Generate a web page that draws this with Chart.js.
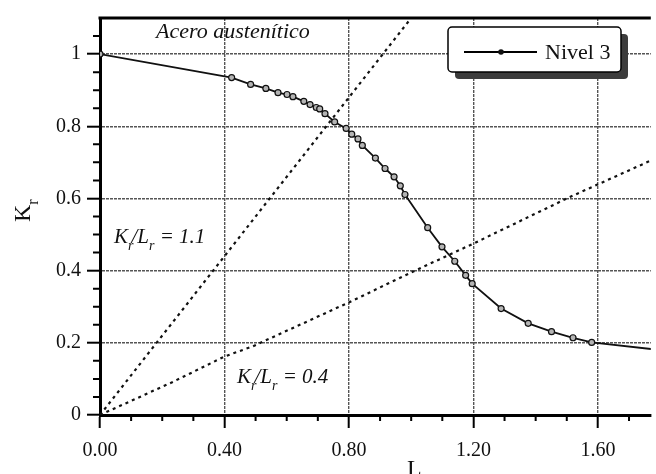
<!DOCTYPE html>
<html>
<head>
<meta charset="utf-8">
<script src="https://cdn.jsdelivr.net/npm/chart.js@4.4.1/dist/chart.umd.min.js"></script>
<style>
html, body { margin: 0; background: #fff; }
</style>
</head>
<body>
<canvas id="chart" width="656" height="474"></canvas>
<script>
// Nivel 3 curve (Lr, Kr); the last point runs past the right edge
const nivelLr = [0, 0.423, 0.484, 0.533, 0.572, 0.601, 0.620, 0.655, 0.675, 0.695, 0.706, 0.723,
	0.754, 0.791, 0.809, 0.829, 0.843, 0.885, 0.916, 0.945, 0.965, 0.980, 1.053, 1.099, 1.140,
	1.175, 1.196, 1.289, 1.376, 1.451, 1.520, 1.580, 1.80];
const nivelKr = [1.000, 0.935, 0.916, 0.905, 0.893, 0.888, 0.882, 0.869, 0.860, 0.852, 0.848, 0.835,
	0.812, 0.794, 0.778, 0.765, 0.747, 0.712, 0.683, 0.660, 0.635, 0.611, 0.519, 0.466, 0.426,
	0.387, 0.364, 0.295, 0.254, 0.231, 0.214, 0.201, 0.180];

// dotted ratio lines Kr/Lr = 1.1 and Kr/Lr = 0.4
const ratio11Lr = [0, 1.01];
const ratio11Kr = [0, 1.111];
const ratio04Lr = [0, 0.23, 0.40, 0.49, 0.80, 1.00, 1.20, 1.51, 1.77];
const ratio04Kr = [0, 0.090, 0.162, 0.190, 0.312, 0.395, 0.475, 0.604, 0.705];

const xTicks = [0, 0.4, 0.8, 1.2, 1.6];
const yTicks = [0, 0.2, 0.4, 0.6, 0.8, 1];
const yTickLabels = ['0', '0.2', '0.4', '0.6', '0.8', '1'];

const serif = '"Liberation Serif", "DejaVu Serif", serif';
const pts = (xs, ys) => xs.map((x, i) => ({ x, y: ys[i] }));

// draws a run of text pieces, some of them as subscripts
function drawRich(ctx, x, y, parts, size, italic) {
	const style = italic ? 'italic ' : '';
	parts.forEach(p => {
		if (p.sub) {
			ctx.font = `${style}${Math.round(size * 0.68)}px ${serif}`;
			ctx.fillText(p.t, x + (p.dx || 0), y + size * 0.35);
		} else {
			ctx.font = `${style}${size}px ${serif}`;
			ctx.fillText(p.t, x + (p.dx || 0), y);
		}
		x += ctx.measureText(p.t).width + (p.dx || 0);
	});
}

const decor = {
	id: 'decor',
	afterDraw(chart) {
		const { ctx, chartArea: a, scales: { x, y } } = chart;
		ctx.save();
		ctx.strokeStyle = '#000';
		ctx.fillStyle = '#111';

		// top frame line
		ctx.lineWidth = 3;
		ctx.beginPath();
		ctx.moveTo(a.left - 1.5, a.top);
		ctx.lineTo(a.right, a.top);
		ctx.stroke();

		// minor ticks
		ctx.lineWidth = 2;
		ctx.beginPath();
		for (let i = 1; i * 0.1 < x.max; i++) {
			if (i % 4 === 0) continue;
			const px = x.getPixelForValue(i * 0.1);
			ctx.moveTo(px, a.bottom);
			ctx.lineTo(px, a.bottom + 6);
		}
		for (let i = 1; i * 0.05 < y.max; i++) {
			if (i % 4 === 0) continue;
			const py = y.getPixelForValue(i * 0.05);
			ctx.moveTo(a.left - 7, py);
			ctx.lineTo(a.left, py);
		}
		ctx.stroke();

		// legend box with drop shadow
		ctx.fillStyle = '#3c3c3c';
		ctx.beginPath();
		ctx.roundRect(455, 34, 173, 45, 4);
		ctx.fill();
		ctx.fillStyle = '#fff';
		ctx.lineWidth = 1.5;
		ctx.beginPath();
		ctx.roundRect(448, 27, 173, 45, 4);
		ctx.fill();
		ctx.stroke();
		ctx.lineWidth = 1.8;
		ctx.beginPath();
		ctx.moveTo(464, 52);
		ctx.lineTo(537, 52);
		ctx.stroke();
		ctx.fillStyle = '#111';
		ctx.beginPath();
		ctx.arc(501, 52, 2.8, 0, Math.PI * 2);
		ctx.fill();
		ctx.textBaseline = 'alphabetic';
		ctx.font = `22px ${serif}`;
		ctx.fillText('Nivel 3', 545, 59);

		// annotations
		ctx.font = `italic 22px ${serif}`;
		ctx.fillText('Acero austenítico', 156, 38);
		drawRich(ctx, 114, 243, [{ t: 'K' }, { t: 'r', sub: true }, { t: '/L', dx: -2 }, { t: 'r', sub: true }, { t: ' = 1.1' }], 21, true);
		drawRich(ctx, 237, 383, [{ t: 'K' }, { t: 'r', sub: true }, { t: '/L', dx: -2 }, { t: 'r', sub: true }, { t: ' = 0.4' }], 21, true);

		// axis titles
		drawRich(ctx, 407, 476, [{ t: 'L' }, { t: 'r', sub: true }], 24, false);
		ctx.translate(30, 222);
		ctx.rotate(-Math.PI / 2);
		drawRich(ctx, 0, 0, [{ t: 'K' }, { t: 'r', sub: true }], 24, false);
		ctx.restore();
	}
};

const tickFont = { family: serif, size: 20 };

new Chart(document.getElementById('chart'), {
	type: 'scatter',
	data: {
		datasets: [
			{
				label: 'Nivel 3',
				data: pts(nivelLr, nivelKr),
				showLine: true,
				borderColor: '#111',
				borderWidth: 1.8,
				pointRadius: nivelLr.map(v => (v > 1.77 ? 0 : 3)),
				pointBackgroundColor: '#b4b4b4',
				pointBorderColor: '#111',
				pointBorderWidth: 1.2,
				order: 0,
			},
			{
				label: 'Kr/Lr = 1.1',
				data: pts(ratio11Lr, ratio11Kr),
				showLine: true,
				borderColor: '#111',
				borderWidth: 2.2,
				borderDash: [3, 4],
				pointRadius: 0,
				order: 1,
			},
			{
				label: 'Kr/Lr = 0.4',
				data: pts(ratio04Lr, ratio04Kr),
				showLine: true,
				borderColor: '#111',
				borderWidth: 2.2,
				borderDash: [3, 4],
				pointRadius: 0,
				order: 2,
			},
		],
	},
	options: {
		responsive: false,
		devicePixelRatio: 1,
		animation: false,
		layout: { padding: { top: 10, right: 0, left: 0, bottom: 0 } },
		scales: {
			x: {
				type: 'linear',
				min: 0,
				max: 1.77,
				afterBuildTicks: s => { s.ticks = xTicks.map(value => ({ value })); },
				afterFit: s => { s.height = 59; },
				ticks: { font: tickFont, color: '#111', padding: 11, maxRotation: 0, callback: v => v.toFixed(2) },
				grid: { color: '#555', lineWidth: 1.4, tickLength: 13, tickWidth: 2, tickColor: '#000' },
				border: { color: '#000', width: 3, dash: [3, 1] },
			},
			y: {
				type: 'linear',
				min: 0,
				max: 1.1,
				afterBuildTicks: s => { s.ticks = yTicks.map(value => ({ value })); },
				afterFit: s => { s.width = 100; },
				ticks: { font: tickFont, color: '#111', padding: 6, callback: v => yTickLabels[yTicks.indexOf(v)] },
				grid: { color: '#555', lineWidth: 1.4, tickLength: 13, tickWidth: 2, tickColor: '#000' },
				border: { color: '#000', width: 3, dash: [3, 1] },
			},
		},
		plugins: {
			legend: { display: false },
			tooltip: { enabled: false },
		},
	},
	plugins: [decor],
});
</script>
</body>
</html>
